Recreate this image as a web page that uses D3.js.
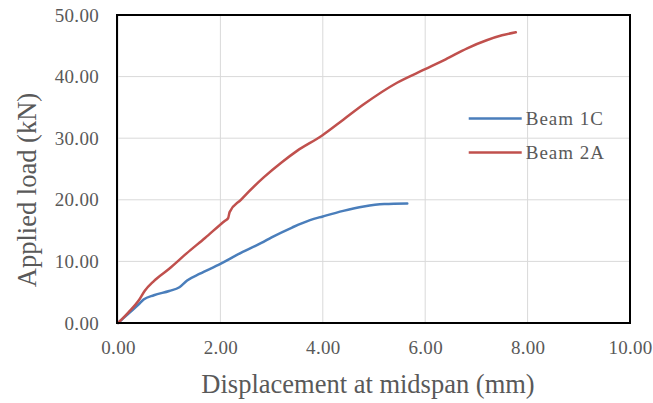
<!DOCTYPE html>
<html>
<head>
<meta charset="utf-8">
<script src="https://cdn.jsdelivr.net/npm/d3@7"></script>
<style>
  body { margin: 0; background: #fff; }
  text { font-family: "Liberation Serif", "Times New Roman", serif; fill: #595959; }
</style>
</head>
<body>
<div id="chart"></div>
<script>
// chart data
var xTicks = [0, 2, 4, 6, 8, 10];
var yTicks = [0, 10, 20, 30, 40, 50];
var seriesNames = ["Beam 1C", "Beam 2A"];
var seriesColors = ["#4a7ebb", "#c0504d"];

var beam1CDisp = [0, 0.2, 0.4, 0.5, 0.7, 1.0, 1.2, 1.35, 1.6, 2.0, 2.4, 2.8, 3.0, 3.4, 3.75, 4.0, 4.4, 4.8, 5.2, 5.65];
var beam1CLoad = [0, 1.5, 3.0, 3.8, 4.5, 5.2, 5.8, 6.9, 8.0, 9.6, 11.4, 13.0, 13.9, 15.5, 16.7, 17.3, 18.2, 18.9, 19.3, 19.4];

var beam2ADisp = [0, 0.2, 0.4, 0.52, 0.7, 1.0, 1.34, 1.7, 2.09, 2.15, 2.18, 2.4, 2.84, 3.2, 3.49, 3.98, 4.4, 4.8, 5.45, 6.0, 6.4, 6.82, 7.2, 7.5, 7.77];
var beam2ALoad = [0, 1.7, 3.6, 5.2, 6.8, 8.8, 11.3, 13.8, 16.6, 17.0, 18.0, 20.0, 23.6, 26.1, 27.9, 30.4, 33.0, 35.5, 39.0, 41.2, 42.8, 44.6, 45.9, 46.7, 47.2];

var svgWidth = 653;
var svgHeight = 403;

var margin = { top: 15, right: 23, bottom: 80, left: 118 };
var chartWidth = svgWidth - margin.left - margin.right;
var chartHeight = svgHeight - margin.top - margin.bottom;

var svg = d3.select("#chart")
  .append("svg")
  .attr("width", svgWidth)
  .attr("height", svgHeight);

var chartGroup = svg.append("g")
  .attr("transform", `translate(${margin.left}, ${margin.top})`);

var xScale = d3.scaleLinear().domain([0, 10]).range([0, chartWidth]);
var yScale = d3.scaleLinear().domain([0, 50]).range([chartHeight, 0]);

var fmt = d3.format(".2f");

// gridlines
chartGroup.append("g")
  .selectAll("line")
  .data(xTicks)
  .enter()
  .append("line")
  .attr("x1", d => xScale(d))
  .attr("x2", d => xScale(d))
  .attr("y1", 0)
  .attr("y2", chartHeight)
  .attr("stroke", "#d9d9d9")
  .attr("stroke-width", 1);

chartGroup.append("g")
  .selectAll("line")
  .data(yTicks)
  .enter()
  .append("line")
  .attr("x1", 0)
  .attr("x2", chartWidth)
  .attr("y1", d => yScale(d))
  .attr("y2", d => yScale(d))
  .attr("stroke", "#d9d9d9")
  .attr("stroke-width", 1);

// axes (labels only, no tick lines)
var bottomAxis = d3.axisBottom(xScale).tickValues(xTicks).tickFormat(fmt).tickSize(0).tickPadding(18);
var leftAxis = d3.axisLeft(yScale).tickValues(yTicks).tickFormat(fmt).tickSize(0).tickPadding(19);

var xAxisG = chartGroup.append("g")
  .attr("transform", `translate(0, ${chartHeight})`)
  .call(bottomAxis);
var yAxisG = chartGroup.append("g")
  .call(leftAxis);

[xAxisG, yAxisG].forEach(function(g) {
  g.select(".domain").remove();
  g.selectAll("text")
    .attr("font-family", "Liberation Serif, serif")
    .attr("font-size", 19)
    .attr("letter-spacing", 0.3)
    .attr("fill", "#595959");
});

// lines
var line = d3.line()
  .x(d => xScale(d[0]))
  .y(d => yScale(d[1]))
  .curve(d3.curveMonotoneX);

var series = [
  d3.zip(beam1CDisp, beam1CLoad),
  d3.zip(beam2ADisp, beam2ALoad)
];

chartGroup.selectAll(".series")
  .data(series)
  .enter()
  .append("path")
  .classed("series", true)
  .attr("d", line)
  .attr("fill", "none")
  .attr("stroke", (d, i) => seriesColors[i])
  .attr("stroke-width", 2.5)
  .attr("stroke-linejoin", "round")
  .attr("stroke-linecap", "round");

// plot border
chartGroup.append("rect")
  .attr("x", -1)
  .attr("y", 0)
  .attr("width", chartWidth + 1)
  .attr("height", chartHeight)
  .attr("fill", "none")
  .attr("stroke", "#000")
  .attr("stroke-width", 2);

// legend
var legend = chartGroup.append("g")
  .attr("transform", `translate(${xScale(6.85)}, ${yScale(33.2)})`);

legend.selectAll("line")
  .data(seriesNames)
  .enter()
  .append("line")
  .attr("x1", 0)
  .attr("x2", 53)
  .attr("y1", (d, i) => i * 34)
  .attr("y2", (d, i) => i * 34)
  .attr("stroke", (d, i) => seriesColors[i])
  .attr("stroke-width", 2.5);

legend.selectAll("text")
  .data(seriesNames)
  .enter()
  .append("text")
  .attr("x", 57)
  .attr("y", (d, i) => i * 34 + 7)
  .attr("font-size", 19)
  .attr("letter-spacing", 1)
  .text(d => d);

// axis titles
svg.append("text")
  .attr("x", margin.left + chartWidth / 2 - 6)
  .attr("y", 393)
  .attr("text-anchor", "middle")
  .attr("font-size", 26.5)
  .text("Displacement at midspan (mm)");

svg.append("text")
  .attr("transform", "rotate(-90)")
  .attr("x", -190)
  .attr("y", 36)
  .attr("text-anchor", "middle")
  .attr("font-size", 26.5)
  .text("Applied load (kN)");
</script>
</body>
</html>
